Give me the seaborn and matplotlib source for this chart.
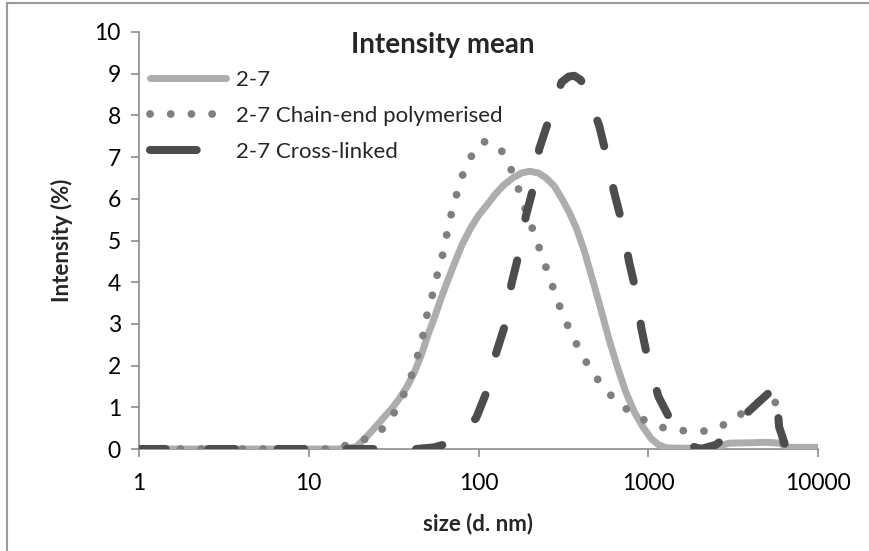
import numpy as np
import matplotlib
matplotlib.use("Agg")
import matplotlib.pyplot as plt
from matplotlib.lines import Line2D
from matplotlib.ticker import FixedLocator, FixedFormatter, NullLocator
import seaborn as sns

# Données (taille en nm, intensité en %)
size_27 = [1, 3, 6, 10, 15, 19, 22, 25, 28, 31, 34, 38, 42, 46, 50, 55, 60, 66, 73, 80,
           90, 100, 112, 125, 140, 159, 180, 200, 225, 250, 280, 310, 340, 377, 420, 470,
           530, 590, 660, 740, 830, 930, 1040, 1150, 1280, 1450, 2000, 2500, 3000, 4000,
           5000, 6000, 6500, 10000]
int_27 = [0, 0, 0, 0, 0, 0.05, 0.3, 0.55, 0.78, 0.98, 1.2, 1.5, 1.85, 2.25, 2.7, 3.15,
          3.6, 4.05, 4.5, 4.9, 5.3, 5.6, 5.85, 6.1, 6.32, 6.5, 6.62, 6.66, 6.62, 6.5, 6.3,
          6.0, 5.7, 5.3, 4.75, 4.06, 3.3, 2.6, 1.95, 1.35, 0.88, 0.53, 0.25, 0.1, 0.03,
          0.02, 0.02, 0.05, 0.14, 0.15, 0.16, 0.14, 0.04, 0.04]

size_chain = [1, 5, 10, 15, 18, 23, 29, 33, 37.5, 41, 44.5, 47.6, 50, 54, 57.5, 61.5, 65,
              69, 74, 80, 90, 106, 133, 151, 167, 183, 201, 220, 241, 264, 288, 317, 356,
              400, 459, 537, 647, 800, 1000, 1310, 1730, 2280, 2930, 3670, 4600, 5000,
              5590, 5850, 6300]
int_chain = [0, 0, 0, 0, 0.17, 0.26, 0.57, 0.98, 1.42, 1.85, 2.33, 2.8, 3.27, 3.75, 4.23,
             4.66, 5.14, 5.62, 6.08, 6.54, 7.0, 7.38, 7.24, 6.83, 6.4, 5.9, 5.45, 5.0, 4.54,
             4.08, 3.63, 3.17, 2.74, 2.31, 1.9, 1.51, 1.15, 0.86, 0.64, 0.47, 0.43, 0.43,
             0.62, 0.89, 1.17, 1.25, 1.13, 0.65, 0]

size_cross = [1, 10, 30, 43, 55, 68, 80, 97, 115, 127, 148, 156, 174, 190, 213, 228, 263,
              290, 309, 340, 367, 400, 434, 470, 515, 570, 630, 705, 770, 850, 910, 1000,
              1150, 1420, 1700, 2040, 2500, 3080, 3800, 4600, 5650, 5900, 6450, 7500]
int_cross = [0, 0, 0, 0, 0.04, 0.15, 0.35, 0.75, 1.5, 2.3, 3.15, 3.94, 4.73, 5.58, 6.35,
             7.2, 7.96, 8.5, 8.8, 8.93, 8.95, 8.85, 8.58, 8.2, 7.74, 7.0, 6.15, 5.38, 4.5,
             3.75, 2.9, 2.1, 1.25, 0.53, 0.1, 0, 0.1, 0.38, 0.86, 1.17, 1.5, 0.53, 0.05, 0]

labels = ["2-7", "2-7 Chain-end polymerised", "2-7 Cross-linked"]
x_ticks = [1, 10, 100, 1000, 10000]
y_ticks = list(range(0, 11))

sns.set_style("white")
plt.rcParams["font.family"] = ["Lato", "DejaVu Sans"]

fig = plt.figure(figsize=(8.69, 5.51), dpi=100)
ax = fig.add_axes([139 / 869, 1 - 449 / 551, (818 - 139) / 869, (449 - 32) / 551])

axis_grey = "#8c8c8c"

# 2-7 : trait plein gris clair
sns.lineplot(x=size_27, y=int_27, ax=ax, color="#adadad", lw=5.0, sort=False,
             estimator=None, zorder=3)
l1 = ax.lines[-1]
l1.set_solid_capstyle("round")
l1.set_solid_joinstyle("round")

# Chain-end polymerised : pointillés
sns.lineplot(x=size_chain, y=int_chain, ax=ax, color="#7f7f7f", lw=5.6, sort=False,
             estimator=None, zorder=4)
l2 = ax.lines[-1]
l2.set_dashes((0.01, 2.65))
l2.set_dash_capstyle("round")

# Cross-linked : tirets foncés
sns.lineplot(x=size_cross, y=int_cross, ax=ax, color="#4d4d4d", lw=5.8, sort=False,
             estimator=None, zorder=5)
l3 = ax.lines[-1]
l3.set_dashes((3.3, 5.3))
l3.set_dash_capstyle("round")
l3.set_solid_joinstyle("round")

ax.set_xscale("log")
ax.set_xlim(1, 10000)
ax.set_ylim(0, 10)
ax.xaxis.set_major_locator(FixedLocator(x_ticks))
ax.xaxis.set_major_formatter(FixedFormatter([str(t) for t in x_ticks]))
ax.xaxis.set_minor_locator(NullLocator())
ax.set_yticks(y_ticks)
ax.set_xlabel("")
ax.set_ylabel("")

for side in ["top", "right"]:
    ax.spines[side].set_visible(False)
for side in ["left", "bottom"]:
    ax.spines[side].set_color(axis_grey)
    ax.spines[side].set_linewidth(1.2)
ax.tick_params(axis="both", direction="out", length=6, width=1.2, color=axis_grey,
               labelsize=16.5, labelcolor="black", pad=7, bottom=True, left=True)
ax.tick_params(axis="x", pad=11)

# Légende
handles = [Line2D([], [], color=l.get_color(), lw=l.get_linewidth()) for l in (l1, l2, l3)]
handles[0].set_solid_capstyle("round")
handles[1].set_dashes((0.01, 2.65))
handles[1].set_dash_capstyle("round")
handles[2].set_dashes((5.8, 20))
handles[2].set_dash_capstyle("round")
leg = fig.legend(handles, labels, loc="upper left", bbox_to_anchor=(150 / 869, 1 - 70 / 551),
                 frameon=False, fontsize=16, handlelength=3.4, handletextpad=0.45,
                 labelspacing=0.72, borderpad=0, borderaxespad=0)

fig.text(443 / 869, 1 - 45 / 551, "Intensity mean", ha="center", va="center",
         fontsize=20, fontweight="bold")
fig.text(478 / 869, 1 - 524 / 551, "size (d. nm)", ha="center", va="center",
         fontsize=16, fontweight="bold")
fig.text(62 / 869, 1 - 240 / 551, "Intensity (%)", ha="center", va="center",
         rotation=90, fontsize=16, fontweight="bold")

# cadre gris (bords gauche et haut)
fig.add_artist(Line2D([7 / 869, 7 / 869], [0, 1 - 3 / 551], color="#9a9a9a", lw=1.5))
fig.add_artist(Line2D([7 / 869, 1], [1 - 3 / 551, 1 - 3 / 551], color="#9a9a9a", lw=1.5))

fig.savefig("out.png", dpi=100)
